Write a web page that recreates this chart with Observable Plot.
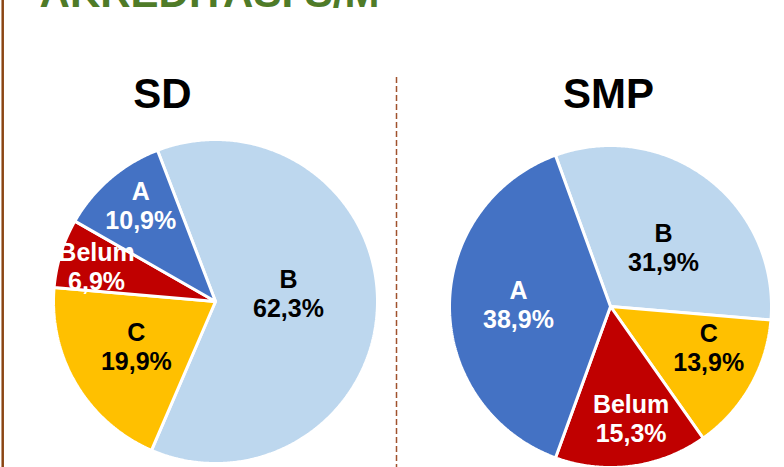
<!DOCTYPE html>
<html>
<head>
<meta charset="utf-8">
<script src="https://cdn.jsdelivr.net/npm/d3@7"></script>
<script src="https://cdn.jsdelivr.net/npm/@observablehq/plot@0.6"></script>
<style>
  html, body { margin: 0; padding: 0; background: #ffffff; }
  #chart svg { display: block; }
</style>
</head>
<body>
<div id="chart"></div>
<script>
// ---- data (clockwise order as drawn) ----
const title = "AKREDITASI S/M";
const panels = ["SD", "SMP"];
const sdCategories = ["B", "C", "Belum", "A"];
const sdValues = [62.3, 19.9, 6.9, 10.9];
const smpCategories = ["B", "C", "Belum", "A"];
const smpValues = [31.9, 13.9, 15.3, 38.9];
// label placement (radial fraction, angle shift in degrees)
const sdLabelRadius = [0.453, 0.561, 0.766, 0.752];
const sdLabelShift = [-7.3, 1.5, -0.8, 2.8];
const smpLabelRadius = [0.493, 0.661, 0.704, 0.572];
const smpLabelShift = [4.5, -7.2, -2.9, 1.4];
const colorDomain = ["A", "B", "C", "Belum"];
const colorRange = ["#4472C4", "#BDD7EE", "#FFC000", "#C00000"];
const labelColor = {A: "white", B: "black", C: "black", Belum: "white"};

// ---- layout ----
const W = 784, H = 467;
const pies = [
  {name: panels[0], cats: sdCategories, vals: sdValues, lr: sdLabelRadius, ls: sdLabelShift, cx: 215, cy: 301, r: 162, start: -21, titleX: 162},
  {name: panels[1], cats: smpCategories, vals: smpValues, lr: smpLabelRadius, ls: smpLabelShift, cx: 610, cy: 306, r: 161, start: -20, titleX: 608}
];

const rad = Math.PI / 180;
const polys = [];
const labels = [];
const titles = [];
for (const p of pies) {
  const total = d3.sum(p.vals);
  let a = p.start;
  p.vals.forEach((v, i) => {
    const span = v / total * 360;
    const a0 = a, a1 = a + span;
    const key = p.name + "-" + p.cats[i];
    polys.push({key, cat: p.cats[i], x: p.cx, y: p.cy});
    const steps = Math.max(2, Math.ceil(span / 0.5));
    for (let s = 0; s <= steps; s++) {
      const t = (a0 + (a1 - a0) * s / steps) * rad;
      polys.push({key, cat: p.cats[i], x: p.cx + p.r * Math.sin(t), y: p.cy - p.r * Math.cos(t)});
    }
    const m = ((a0 + a1) / 2 + p.ls[i]) * rad;
    const pct = v.toFixed(1).replace(".", ",") + "%";
    labels.push({
      x: p.cx + p.lr[i] * p.r * Math.sin(m),
      y: p.cy - p.lr[i] * p.r * Math.cos(m),
      text: p.cats[i] + "\n" + pct,
      color: labelColor[p.cats[i]]
    });
    a = a1;
  });
  titles.push({x: p.titleX, y: 94.5, text: p.name});
}

const chart = Plot.plot({
  width: W,
  height: H,
  margin: 0,
  x: {domain: [0, W], range: [0, W], axis: null},
  y: {domain: [0, H], range: [0, H], axis: null},
  color: {domain: colorDomain, range: colorRange},
  style: {fontFamily: "'Liberation Sans', Arial, sans-serif", background: "white"},
  marks: [
    Plot.ruleX([2.2], {y1: 0, y2: H, stroke: "#8B4513", strokeWidth: 2.5}),
    Plot.ruleX([396], {y1: 77, y2: H, stroke: "#A0522D", strokeWidth: 1.5, strokeDasharray: "6,3"}),
    Plot.text([title], {x: 209, y: 6, text: d => d, fill: "#4F7B28", fontSize: 42, fontWeight: "bold", lineAnchor: "bottom", textAnchor: "middle"}),
    Plot.line(polys, {x: "x", y: "y", z: "key", fill: "cat", stroke: "white", strokeWidth: 3, strokeLinejoin: "miter", curve: "linear-closed"}),
    Plot.text(titles, {x: "x", y: "y", text: "text", fontSize: 42, fontWeight: "bold", fill: "black", lineAnchor: "middle"}),
    Plot.text(labels, {x: "x", y: "y", text: "text", fill: "color", fontSize: 25, fontWeight: "bold", lineHeight: 1.16, lineAnchor: "middle"})
  ]
});
document.getElementById("chart").appendChild(chart);
</script>
</body>
</html>
